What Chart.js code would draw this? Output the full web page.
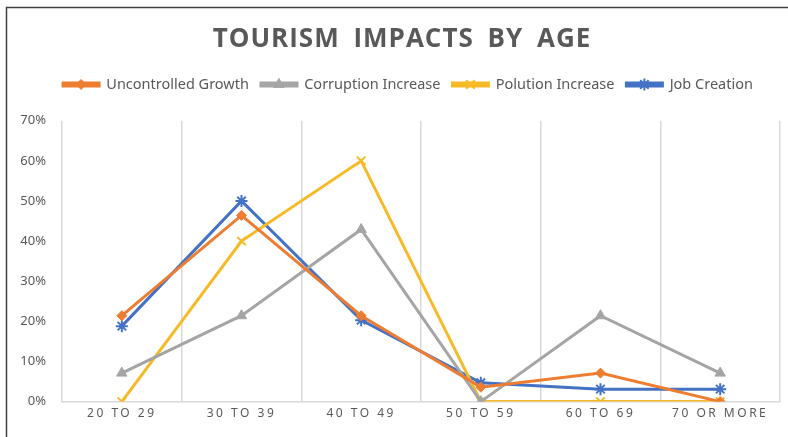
<!DOCTYPE html>
<html>
<head>
<meta charset="utf-8">
<script src="https://cdn.jsdelivr.net/npm/chart.js@4.4.0/dist/chart.umd.min.js"></script>
<style>
  html, body { margin: 0; padding: 0; background: #fff; }
</style>
</head>
<body>
<canvas id="chart" width="788" height="437"></canvas>
<script>
const ageGroups = ['20 TO 29', '30 TO 39', '40 TO 49', '50 TO 59', '60 TO 69', '70 OR MORE'];
const uncontrolledGrowth = [21.4, 46.4, 21.4, 3.6, 7.1, 0];
const corruptionIncrease = [7.1, 21.4, 42.9, 0, 21.4, 7.1];
const polutionIncrease = [0, 40, 60, 0, 0, 0];
const jobCreation = [18.8, 50, 20.3, 4.7, 3.1, 3.1];
const yMin = 0, yMax = 70, yStep = 10;

const textColor = '#595959';
const gridColor = '#d9d9d9';

function series(label, data, color, pointStyle, radius) {
    return {
        label: label,
        data: data,
        borderColor: color,
        backgroundColor: color,
        borderWidth: 3,
        pointStyle: pointStyle,
        pointRadius: radius,
        pointHoverRadius: radius,
        pointBorderWidth: pointStyle === 'crossRot' || pointStyle === 'star' ? 2 : 1,
        tension: 0
    };
}

// wraps a box's draw so it runs with extra canvas state
function wrapDraw(obj, name, ctx, setup) {
    if (!obj || obj['_w_' + name]) return;
    const draw = obj[name];
    obj[name] = function () {
        ctx.save();
        setup(ctx);
        draw.apply(this, arguments);
        ctx.restore();
    };
    obj['_w_' + name] = true;
}

const legendShift = 18;

// legend markers, letter spacing and the outer frame
const extras = {
    id: 'extras',
    beforeInit(chart) {
        const fit = chart.legend.fit;
        chart.legend.fit = function () {
            fit.call(this);
            this.height += 19;
        };
    },
    beforeDraw(chart) {
        const ctx = chart.ctx;
        ctx.save();
        ctx.fillStyle = '#fff';
        ctx.fillRect(0, 0, chart.width, chart.height);
        ctx.restore();
        wrapDraw(chart.scales.x, 'drawLabels', ctx, function (c) { c.letterSpacing = '2.5px'; });
        wrapDraw(chart.titleBlock, 'draw', ctx, function (c) {
            c.translate(12, 0);
            c.letterSpacing = '1px';
            c.wordSpacing = '6px';
        });
        wrapDraw(chart.legend, 'draw', ctx, function (c) { c.translate(legendShift, 0); });
    },
    afterDraw(chart) {
        const ctx = chart.ctx;
        const boxes = chart.legend.legendHitBoxes;
        const boxW = chart.options.plugins.legend.labels.boxWidth;
        chart.data.datasets.forEach(function (ds, i) {
            const hb = boxes[i];
            if (!hb) return;
            ctx.save();
            ctx.fillStyle = ds.backgroundColor;
            ctx.strokeStyle = ds.borderColor;
            ctx.lineWidth = ds.pointBorderWidth;
            Chart.helpers.drawPoint(ctx, {
                pointStyle: ds.pointStyle,
                rotation: 0,
                radius: ds.pointRadius,
                borderWidth: ds.pointBorderWidth
            }, hb.left + legendShift + boxW / 2, hb.top + hb.height / 2);
            ctx.restore();
        });
        ctx.save();
        ctx.strokeStyle = '#404040';
        ctx.lineWidth = 1.5;
        ctx.beginPath();
        ctx.moveTo(6.5, chart.height);
        ctx.lineTo(6.5, 7.5);
        ctx.lineTo(chart.width, 7.5);
        ctx.stroke();
        ctx.restore();
    }
};

const ctx = document.getElementById('chart').getContext('2d');
const chart = new Chart(ctx, {
    type: 'line',
    data: {
        labels: ageGroups,
        datasets: [
            series('Uncontrolled Growth', uncontrolledGrowth, '#ED7D31', 'rectRot', 5),
            series('Corruption Increase', corruptionIncrease, '#A5A5A5', 'triangle', 6),
            series('Polution Increase', polutionIncrease, '#F6BA26', 'crossRot', 6),
            series('Job Creation', jobCreation, '#4472C4', 'star', 6)
        ]
    },
    options: {
        responsive: false,
        animation: false,
        events: [],
        layout: { padding: { top: 0, right: 8, bottom: 11, left: 0 } },
        plugins: {
            title: {
                display: true,
                text: 'TOURISM IMPACTS BY AGE',
                color: textColor,
                font: { family: 'Open Sans', size: 26, weight: 'bold' },
                padding: { top: 24, bottom: 10 }
            },
            legend: {
                position: 'top',
                labels: {
                    color: textColor,
                    font: { family: 'Noto Sans', size: 14.5 },
                    boxWidth: 36,
                    boxHeight: 3,
                    padding: 12
                }
            },
            tooltip: { enabled: false }
        },
        scales: {
            x: {
                offset: true,
                grid: { display: true, offset: true, color: gridColor, drawTicks: false, lineWidth: 1.5 },
                border: { display: true, color: gridColor, width: 1.5 },
                ticks: {
                    color: textColor,
                    font: { family: 'Noto Sans', size: 12 },
                    padding: 5
                }
            },
            y: {
                min: yMin,
                max: yMax,
                grid: { display: false, drawTicks: false },
                border: { display: false },
                afterFit(scale) { scale.width = 62; },
                ticks: {
                    stepSize: yStep,
                    color: textColor,
                    font: { family: 'Noto Sans', size: 13 },
                    padding: 16,
                    callback: function (v) { return v + '%'; }
                }
            }
        }
    },
    plugins: [extras]
});
</script>
</body>
</html>
